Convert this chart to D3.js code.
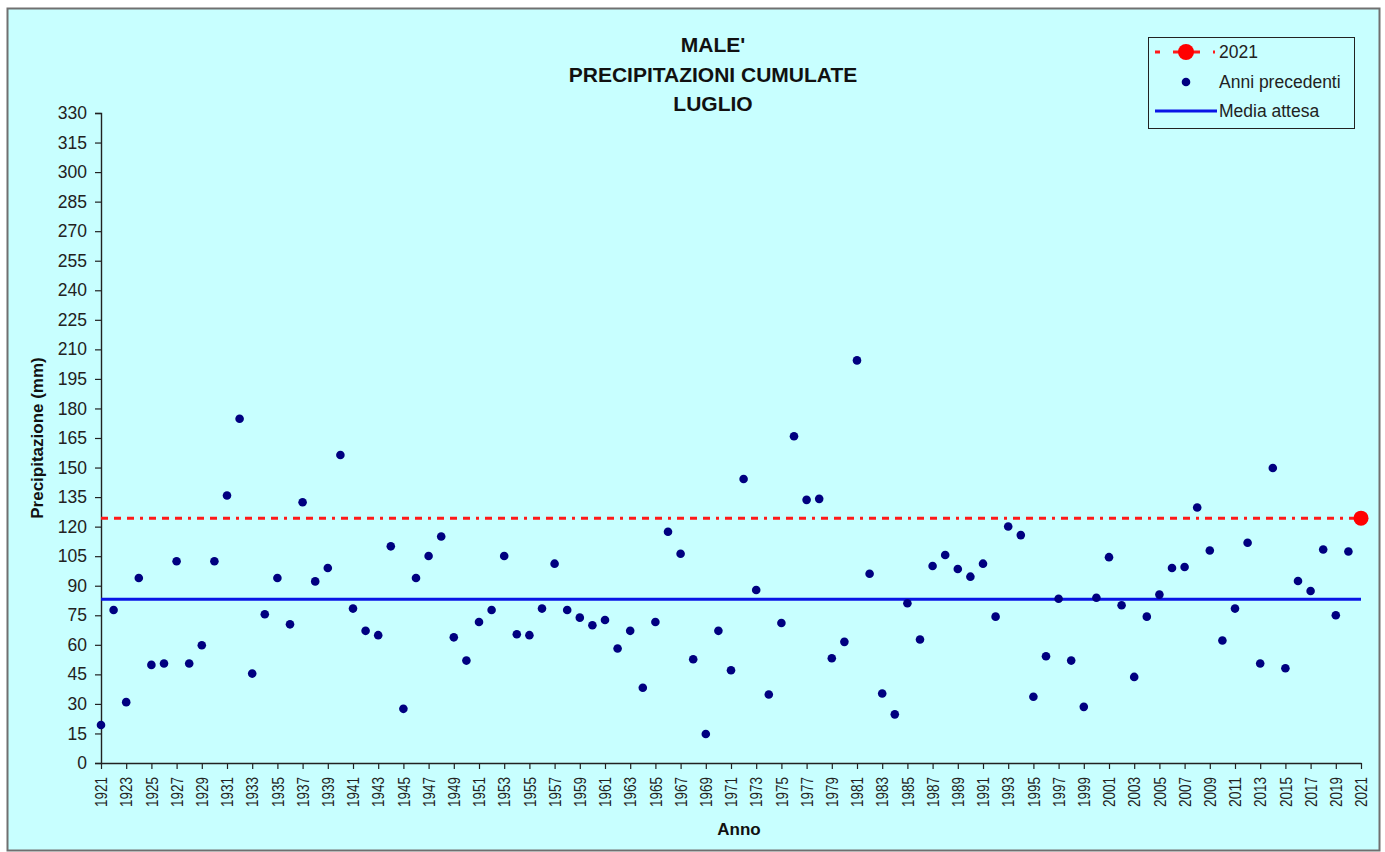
<!DOCTYPE html>
<html>
<head>
<meta charset="utf-8">
<script src="https://cdn.jsdelivr.net/npm/d3@7"></script>
<style>
  body { margin: 0; background: #fff; }
  svg { display: block; font-family: Arial, "Liberation Sans", sans-serif; }
</style>
</head>
<body>
<svg id="chart" width="1385" height="852"></svg>
<script>
// anni precedenti (1921-2020), precipitazione di luglio in mm
const years = d3.range(1921, 2021);
const values = [
  19.3, 77.7, 30.9, 93.9, 49.8, 50.5, 102.4, 50.5, 59.8, 102.4,
  135.8, 174.8, 45.4, 75.5, 93.9, 70.4, 132.4, 92.2, 99.0, 156.4,
  78.4, 67.1, 64.9, 110.0, 27.5, 93.9, 105.1, 115.0, 63.8, 52.0,
  71.6, 77.7, 105.1, 65.4, 64.9, 78.4, 101.2, 77.7, 73.8, 69.9,
  72.6, 58.1, 67.1, 38.2, 71.6, 117.4, 106.2, 52.7, 14.7, 67.1,
  47.1, 144.2, 87.8, 34.8, 71.1, 165.9, 133.6, 134.1, 53.2, 61.5,
  204.4, 96.1, 35.3, 24.7, 81.1, 62.7, 100.0, 105.6, 98.5, 94.6,
  101.2, 74.3, 120.1, 115.7, 33.6, 54.2, 83.4, 52.0, 28.5, 83.9,
  104.5, 80.1, 43.7, 74.3, 85.5, 99.0, 99.5, 129.7, 107.9, 62.2,
  78.4, 111.8, 50.5, 149.8, 48.1, 92.4, 87.3, 108.4, 75.0, 107.4
];
const currentYear = 2021;
const currentValue = 124.3;
const expectedMean = 83.1;
const tickYears = d3.range(1921, 2022, 2);
const yTicks = d3.range(0, 331, 15);
const titleLines = ["MALE'", 'PRECIPITAZIONI CUMULATE', 'LUGLIO'];
const legendLabels = ['2021', 'Anni precedenti', 'Media attesa'];

const FONT = 'Arial, "Liberation Sans", sans-serif';
const svg = d3.select('#chart');
const plotLeft = 101, plotRight = 1361, plotTop = 113, plotBottom = 763;

const x = d3.scaleLinear().domain([1921, 2021]).range([plotLeft, plotRight]);
const y = d3.scaleLinear().domain([0, 330]).range([plotBottom, plotTop]);

// chart background and frame
svg.append('rect')
    .attr('x', 7.5).attr('y', 8.5)
    .attr('width', 1372).attr('height', 842)
    .attr('fill', '#c8ffff')
    .attr('stroke', '#707070').attr('stroke-width', 2);

// title
svg.append('g').selectAll('text')
    .data(titleLines)
    .join('text')
    .attr('x', 713)
    .attr('y', (d, i) => 52 + i * 29.5)
    .attr('text-anchor', 'middle')
    .attr('font-size', 21)
    .attr('font-weight', 'bold')
    .attr('fill', '#111')
    .text(d => d);

// y axis
const yAxis = svg.append('g')
    .attr('transform', `translate(${plotLeft},0)`)
    .call(d3.axisLeft(y).tickValues(yTicks).tickSize(6).tickPadding(8));
yAxis.select('.domain').attr('stroke', '#222').attr('stroke-width', 1.4);
yAxis.selectAll('.tick line').attr('stroke', '#222').attr('stroke-width', 1.2);
yAxis.selectAll('.tick text')
    .attr('font-size', 17.5).attr('fill', '#222')
    .attr('font-family', FONT);

// x axis
const xAxis = svg.append('g')
    .attr('transform', `translate(0,${plotBottom})`)
    .call(d3.axisBottom(x).tickValues(tickYears).tickFormat(d3.format('d'))
        .tickSize(6).tickSizeOuter(0));
xAxis.select('.domain').attr('stroke', '#222').attr('stroke-width', 1.4);
xAxis.selectAll('.tick line').attr('stroke', '#222').attr('stroke-width', 1.2);
xAxis.selectAll('.tick text')
    .attr('font-size', 16.5).attr('fill', '#222')
    .attr('font-family', FONT)
    .attr('transform', 'rotate(-90)')
    .attr('text-anchor', 'end')
    .attr('textLength', 30)
    .attr('lengthAdjust', 'spacingAndGlyphs')
    .attr('x', -14).attr('y', 0).attr('dy', '0.35em');

// axis titles
svg.append('text')
    .attr('x', 739).attr('y', 835)
    .attr('text-anchor', 'middle')
    .attr('font-size', 17).attr('font-weight', 'bold').attr('fill', '#111')
    .text('Anno');
svg.append('text')
    .attr('transform', 'translate(43,438) rotate(-90)')
    .attr('text-anchor', 'middle')
    .attr('font-size', 17).attr('font-weight', 'bold').attr('fill', '#111')
    .text('Precipitazione (mm)');

// 2021 reference line (dashed red)
svg.append('line')
    .attr('x1', x(1921)).attr('x2', x(currentYear))
    .attr('y1', y(currentValue)).attr('y2', y(currentValue))
    .attr('stroke', '#ff1a1a').attr('stroke-width', 3)
    .attr('stroke-dasharray', '7,6,7,6,7,6,3,6');

// expected mean (blue)
svg.append('line')
    .attr('x1', x(1921)).attr('x2', x(currentYear))
    .attr('y1', y(expectedMean)).attr('y2', y(expectedMean))
    .attr('stroke', '#0a14e6').attr('stroke-width', 3);

// previous years
svg.append('g').selectAll('circle')
    .data(years.map((yr, i) => ({year: yr, value: values[i]})))
    .join('circle')
    .attr('cx', d => x(d.year))
    .attr('cy', d => y(d.value))
    .attr('r', 4.3)
    .attr('fill', '#000080');

// current year
svg.append('circle')
    .attr('cx', x(currentYear)).attr('cy', y(currentValue))
    .attr('r', 7.5).attr('fill', '#ff0000');

// legend
const legend = svg.append('g');
legend.append('rect')
    .attr('x', 1148.5).attr('y', 37.5)
    .attr('width', 206).attr('height', 91)
    .attr('fill', '#c8ffff').attr('stroke', '#222').attr('stroke-width', 1);
legend.append('line')
    .attr('x1', 1155).attr('x2', 1217).attr('y1', 52).attr('y2', 52)
    .attr('stroke', '#ff1a1a').attr('stroke-width', 3)
    .attr('stroke-dasharray', '5,13,27,13,2,10');
legend.append('circle')
    .attr('cx', 1186).attr('cy', 52).attr('r', 8).attr('fill', '#ff0000');
legend.append('circle')
    .attr('cx', 1186).attr('cy', 82).attr('r', 4.3).attr('fill', '#000080');
legend.append('line')
    .attr('x1', 1155).attr('x2', 1217).attr('y1', 111).attr('y2', 111)
    .attr('stroke', '#0a14e6').attr('stroke-width', 3);
legend.selectAll('text')
    .data(legendLabels)
    .join('text')
    .attr('x', 1219)
    .attr('y', (d, i) => 58 + i * 29.5)
    .attr('font-size', 17.5).attr('fill', '#222')
    .attr('font-family', FONT)
    .text(d => d);
</script>
</body>
</html>
